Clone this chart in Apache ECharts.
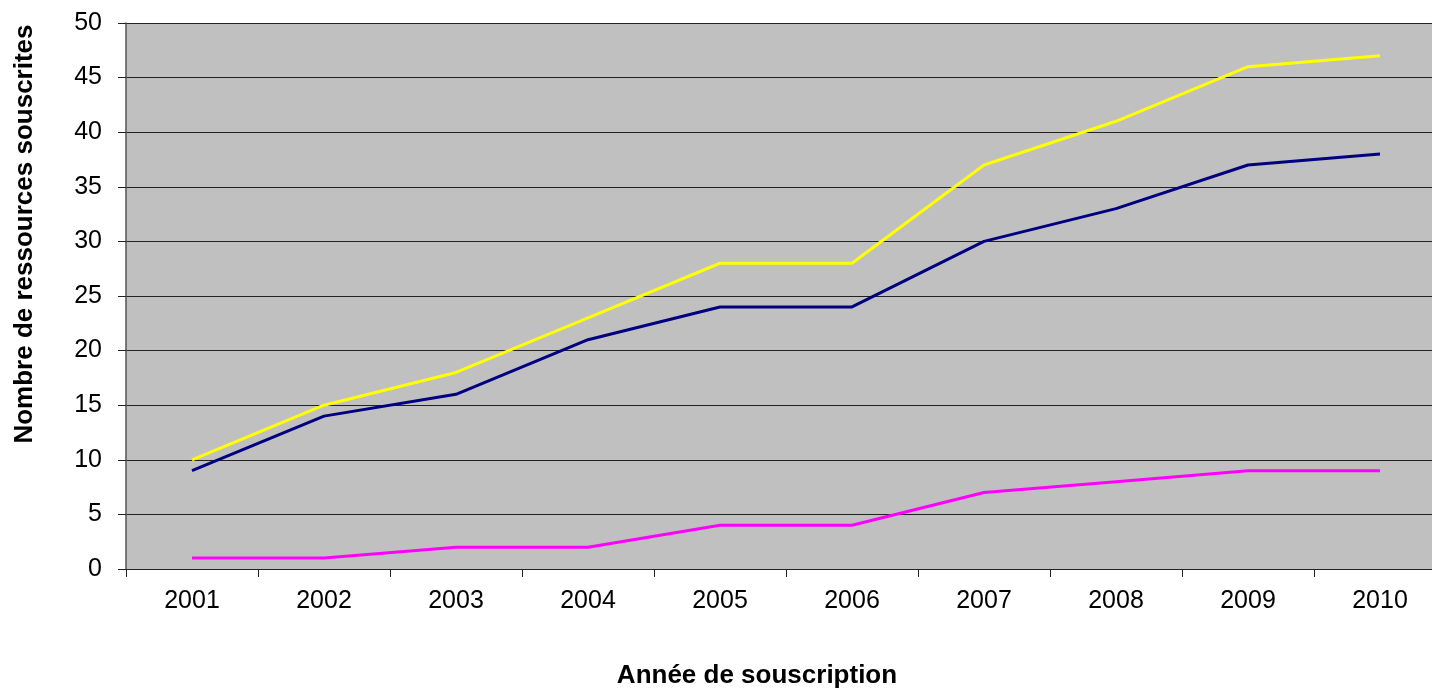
<!DOCTYPE html>
<html><head><meta charset="utf-8">
<script src="https://cdn.jsdelivr.net/npm/echarts@6/dist/echarts.min.js"></script>
<style>html,body{margin:0;padding:0;background:#fff;overflow:hidden}#c{width:1446px;height:690px}</style>
</head><body><div id="c"></div>
<script>
const categories = ['2001','2002','2003','2004','2005','2006','2007','2008','2009','2010'];
const yellowSeries = [10,15,18,23,28,28,37,41,46,47];
const navySeries = [9,14,16,21,24,24,30,33,37,38];
const magentaSeries = [1,1,2,2,4,4,7,8,9,9];
const chart = echarts.init(document.getElementById('c'));
const font = 'Liberation Sans, Arial, sans-serif';
chart.setOption({
  animation:false,
  grid:{left:126,right:0,top:23,bottom:121,show:true,backgroundColor:'#C0C0C0',borderWidth:0},
  graphic:[
    {type:'text',x:25,y:234,rotation:Math.PI/2,
      style:{text:'Nombre de ressources souscrites',font:'bold 26px Liberation Sans, Arial, sans-serif',fill:'#000',align:'center',verticalAlign:'middle'}},
    {type:'text',x:757,y:676,
      style:{text:'Année de souscription',font:'bold 26px Liberation Sans, Arial, sans-serif',fill:'#000',align:'center',verticalAlign:'middle'}}
  ],
  xAxis:{type:'category',data:categories,boundaryGap:true,
    axisLine:{lineStyle:{color:'#222',width:1}},
    axisTick:{show:true,length:8,lineStyle:{color:'#222'}},
    axisLabel:{fontFamily:font,fontSize:25,color:'#000',margin:20},
    splitLine:{show:false}},
  yAxis:{type:'value',min:0,max:50,interval:5,
    axisLine:{show:true,lineStyle:{color:'#555',width:1.5}},
    axisTick:{show:true,length:8,lineStyle:{color:'#222'}},
    axisLabel:{fontFamily:font,fontSize:25,color:'#000',margin:24},
    splitLine:{show:true,lineStyle:{color:'#222',width:1}}},
  series:[
    {type:'line',data:yellowSeries,symbol:'none',lineStyle:{color:'#FFFF00',width:3},z:3},
    {type:'line',data:navySeries,symbol:'none',lineStyle:{color:'#000080',width:3},z:4},
    {type:'line',data:magentaSeries,symbol:'none',lineStyle:{color:'#FF00FF',width:3},z:5}
  ]
});
</script></body></html>
